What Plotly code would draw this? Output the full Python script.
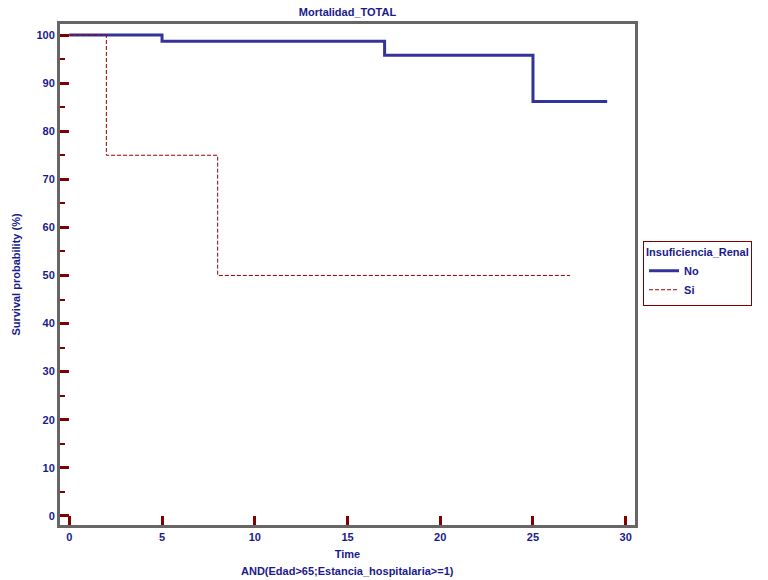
import plotly.graph_objects as go

# Kaplan-Meier step curves: survival (%) by renal failure group
time_no = [0, 5, 17, 25, 29]
surv_no = [100, 98.7, 95.8, 86.2, 86.2]

time_si = [0, 2, 8, 27]
surv_si = [100, 75, 50, 50]

x_ticks = [0, 5, 10, 15, 20, 25, 30]
y_ticks = [0, 10, 20, 30, 40, 50, 60, 70, 80, 90, 100]

navy = "#1a1a8c"
dark_red = "#800000"
font_family = "Liberation Sans, Arial, sans-serif"
bold11 = dict(family=font_family, size=11, color=navy, weight="bold")

fig = go.Figure()
fig.add_trace(go.Scatter(
    x=time_no, y=surv_no, mode="lines", line_shape="hv", name="No",
    line=dict(color="#333399", width=3),
))
fig.add_trace(go.Scatter(
    x=time_si, y=surv_si, mode="lines", line_shape="hv", name="Si",
    line=dict(color="#990000", width=1, dash="4px,2px"),
))

axis_common = dict(
    showgrid=False, zeroline=False,
    showline=True, linecolor="#666666", linewidth=3, mirror=True,
    ticks="inside", ticklen=9, tickwidth=3, tickcolor=dark_red,
    tickfont=bold11,
)

fig.update_xaxes(
    **axis_common,
    range=[-0.5, 30.5], tickvals=x_ticks,
    title=dict(text="Time", font=bold11, standoff=9),
)
fig.update_yaxes(
    **axis_common,
    range=[-1.9, 102.3], tickvals=y_ticks,
    minor=dict(ticks="inside", ticklen=5, tickwidth=2, tickcolor=dark_red, dtick=5, tick0=0),
    title=dict(text="Survival probability (%)", font=bold11, standoff=14),
)

# Subgroup filter shown under the time axis
fig.add_annotation(
    text="AND(Edad>65;Estancia_hospitalaria>=1)",
    xref="paper", yref="paper", x=0.5, y=-0.0918,
    xanchor="center", yanchor="middle", showarrow=False, font=bold11,
)

fig.update_layout(
    width=768, height=580,
    margin=dict(l=60, r=133, t=24, b=55),
    paper_bgcolor="white", plot_bgcolor="white",
    title=dict(text="Mortalidad_TOTAL", x=(60 + 635) / 2 / 768, xanchor="center",
               y=1 - 12 / 580, yanchor="middle", font=bold11),
    legend=dict(
        x=1.014, y=0.567, xanchor="left", yanchor="top",
        bordercolor=dark_red, borderwidth=1, bgcolor="white",
        title=dict(text="Insuficiencia_Renal", font=bold11),
        font=bold11, tracegroupgap=0, itemwidth=30,
    ),
)

fig.write_html("out.html")
